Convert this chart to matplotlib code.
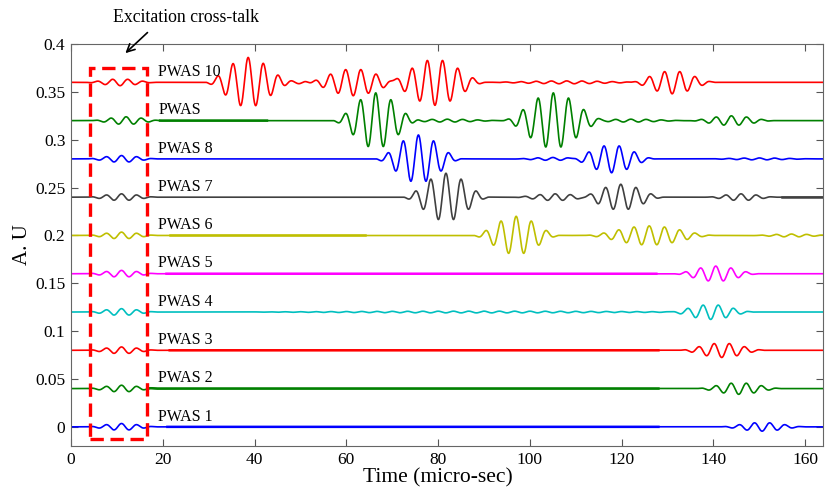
import numpy as np
import matplotlib.pyplot as plt
from matplotlib.patches import Rectangle

plt.rcParams['font.family'] = ['Liberation Serif', 'DejaVu Serif']

# carrier frequency of the tone bursts (MHz -> cycles per micro-sec)
freq = 0.3

labels = ['PWAS 1', 'PWAS 2', 'PWAS 3', 'PWAS 4', 'PWAS 5',
          'PWAS 6', 'PWAS 7', 'PWAS 8', 'PWAS', 'PWAS 10']
offsets = [0.0, 0.04, 0.08, 0.12, 0.16, 0.20, 0.24, 0.28, 0.32, 0.36]
colors = ['#0000ff', '#008000', '#ff0000', '#00bfbf', '#ff00ff',
          '#bfbf00', '#404040', '#0000ff', '#008000', '#ff0000']

# wave packets: (centre time, amplitude, cycles)
p1 = [(11.0, 0.0035, 5), (150.6, -0.0045, 6)]
p2 = [(11.0, 0.0035, 5), (145.5, -0.006, 6)]
p3 = [(11.0, 0.0035, 5), (141.8, -0.0075, 6)]
p4 = [(11.0, 0.0035, 5), (90.0, 0.0009, 40), (139.4, -0.0078, 6)]
p5 = [(11.0, 0.0035, 5), (140.5, 0.008, 6)]
p6 = [(11.0, 0.0035, 5), (97.0, 0.02, 6), (126.0, 0.01, 9), (157.0, 0.0015, 6)]
p7 = [(11.0, 0.0035, 5), (81.7, 0.025, 6), (105.5, 0.0035, 6),
      (119.8, 0.0135, 6), (146.0, 0.0035, 5)]
p8 = [(11.0, 0.0035, 5), (75.7, 0.025, 6), (105.0, 0.0015, 6),
      (117.8, -0.0145, 6), (150.0, 0.001, 8)]
p9 = [(12.0, 0.004, 5), (66.4, 0.029, 6), (82.0, 0.0015, 8),
      (105.1, 0.029, 7), (122.0, 0.0015, 8), (143.9, 0.005, 6)]
p10 = [(10.7, -0.0035, 5), (38.6, 0.026, 6), (48.0, 0.0015, 6),
       (61.5, -0.014, 7), (79.3, -0.024, 7), (108.0, 0.0015, 12),
       (131.0, -0.012, 6)]
packets = [p1, p2, p3, p4, p5, p6, p7, p8, p9, p10]

# stretches where the original trace is drawn heavier
thick = [[(21, 128)], [(17, 128)], [(21.5, 128)], [], [(20.8, 127.6)],
         [(21.5, 64)], [(155, 164)], [], [(19.4, 42.7)], []]

xticks = [0, 20, 40, 60, 80, 100, 120, 140, 160]
yticks = [0, 0.05, 0.1, 0.15, 0.2, 0.25, 0.3, 0.35, 0.4]
ytick_labels = ['0', '0.05', '0.1', '0.15', '0.2', '0.25', '0.3', '0.35', '0.4']


def burst(t, t0, a, n):
    half = n / freq / 2
    u = (t - t0) / half
    w = np.where(np.abs(u) < 1, np.cos(np.pi * u / 2) ** 2, 0.0)
    return a * w * np.cos(2 * np.pi * freq * (t - t0))


t = np.arange(0, 164, 0.05)

fig = plt.figure(figsize=(8.26, 4.95), dpi=100)
ax = fig.add_axes([0.086, 0.099, 0.910, 0.812])

for lab, off, col, pk, spans in zip(labels, offsets, colors, packets, thick):
    y = np.full_like(t, off)
    for t0, a, n in pk:
        y += burst(t, t0, a, n)
    ax.plot(t, y, color=col, lw=1.2)
    for s0, s1 in spans:
        m = (t >= s0) & (t <= s1)
        ax.plot(t[m], y[m], color=col, lw=1.8)
    ax.text(19, off + 0.0066, lab, fontsize=11.5, va='baseline', ha='left')

# dashed box round the cross-talk
ax.add_patch(Rectangle((4.1, -0.0122), 12.4, 0.387, fill=False,
                       ec='#ff0000', lw=2.4, ls=(0, (4, 2)), zorder=5))
ax.annotate('', xy=(11.4, 0.3885), xytext=(17.1, 0.414),
            arrowprops=dict(arrowstyle='->', color='black', lw=1.2,
                            mutation_scale=14),
            annotation_clip=False)
fig.text(0.225, 0.956, 'Excitation cross-talk', fontsize=12.8, ha='center',
         va='baseline')

ax.set_xlim(0, 163.8)
ax.set_ylim(-0.02, 0.4)
ax.set_xticks(xticks)
ax.set_yticks(yticks)
ax.set_yticklabels(ytick_labels)
ax.tick_params(direction='in', length=5, width=0.8, color='#555555',
               top=True, right=True, labelsize=12.5, pad=4)
for sp in ax.spines.values():
    sp.set_color('#666666')
ax.set_xlabel('Time (micro-sec)', fontsize=15.5, labelpad=3)
ax.xaxis.set_label_coords(0.488, -0.055)
ax.xaxis.label.set_va('top')
ax.set_ylabel('A. U', fontsize=15, labelpad=2)

fig.savefig('out.png', dpi=100)
